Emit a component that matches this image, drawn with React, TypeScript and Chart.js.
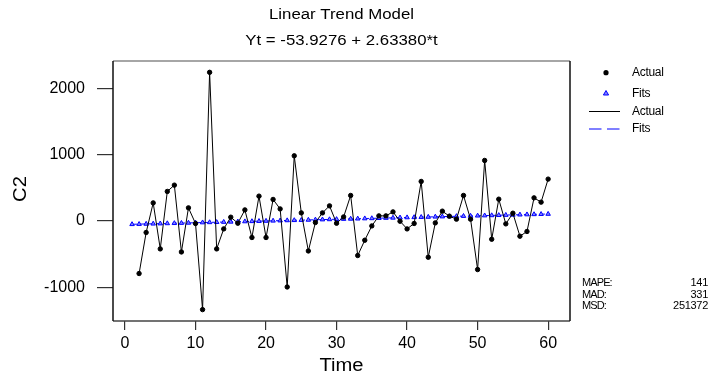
import React, { useEffect, useRef } from "react";
import { Chart, registerables } from "chart.js";

Chart.register(...registerables);

const titleLines = ["Linear Trend Model", "Yt = -53.9276 + 2.63380*t"];
const xTitle = "Time";
const yTitle = "C2";

const time = [
  1, 2, 3, 4, 5, 6, 7, 8, 9, 10, 11, 12, 13, 14, 15, 16, 17, 18, 19, 20,
  21, 22, 23, 24, 25, 26, 27, 28, 29, 30, 31, 32, 33, 34, 35, 36, 37, 38, 39, 40,
  41, 42, 43, 44, 45, 46, 47, 48, 49, 50, 51, 52, 53, 54, 55, 56, 57, 58, 59, 60,
];

const actual: (number | null)[] = [
  null, -795, -175, 272, -423, 445, 540, -469, 197, -39,
  -1340, 2244, -423, -121, 56, -35, 166, -251, 374, -251,
  324, 181, -998, 983, 121, -454, -24, 121, 227, -35,
  60, 384, -523, -292, -76, 76, 76, 136, -5, -121,
  -39, 596, -549, -30, 147, 71, 26, 384, 26, -735,
  913, -277, 328, -45, 116, -231, -160, 348, 283, 631,
];

const fits = [
  -51.3, -48.7, -46.0, -43.4, -40.8, -38.1, -35.5, -32.9, -30.2, -27.6,
  -24.9, -22.3, -19.7, -17.0, -14.4, -11.8, -9.1, -6.5, -3.9, -1.2,
  1.4, 4.0, 6.7, 9.3, 11.9, 14.6, 17.2, 19.8, 22.5, 25.1,
  27.7, 30.4, 33.0, 35.6, 38.3, 40.9, 43.5, 46.2, 48.8, 51.4,
  54.1, 56.7, 59.3, 62.0, 64.6, 67.2, 69.9, 72.5, 75.1, 77.8,
  80.4, 83.0, 85.7, 88.3, 90.9, 93.6, 96.2, 98.8, 101.5, 104.1,
];

const xTicks = [0, 10, 20, 30, 40, 50, 60];
const yTicks = [-1000, 0, 1000, 2000];

const legendLabels = ["Actual", "Fits", "Actual", "Fits"];
const statLabels = ["MAPE:", "MAD:", "MSD:"];
const statValues = ["141", "331", "251372"];

const FONT = "'Liberation Sans', Arial, sans-serif";

function drawText(
  ctx: CanvasRenderingContext2D,
  text: string,
  x: number,
  y: number,
  font: string,
  align: CanvasTextAlign,
  sx = 1,
  rot = 0,
  spacing = "0px"
) {
  ctx.save();
  ctx.translate(x, y);
  if (rot) ctx.rotate(rot);
  ctx.scale(sx, 1);
  ctx.font = font;
  (ctx as any).letterSpacing = spacing;
  ctx.textAlign = align;
  ctx.textBaseline = "middle";
  ctx.fillStyle = "#000";
  ctx.fillText(text, 0, 0);
  ctx.restore();
}

const decorPlugin = {
  id: "decor",
  afterDraw(chart: any) {
    const ctx: CanvasRenderingContext2D = chart.ctx;
    const a = chart.chartArea;
    const cx = (a.left + a.right) / 2;

    // titles
    drawText(ctx, titleLines[0], cx, 15, `14px ${FONT}`, "center", 1.2);
    drawText(ctx, titleLines[1], cx, 41.5, `14px ${FONT}`, "center", 1.2);
    // axis titles
    drawText(ctx, xTitle, cx, 366, `18px ${FONT}`, "center", 1.12);
    drawText(ctx, yTitle, 21, (a.top + a.bottom) / 2 - 2, `18px ${FONT}`, "center", 1.12, -Math.PI / 2);

    // frame
    ctx.save();
    ctx.lineWidth = 1.5;
    ctx.strokeStyle = "#888";
    ctx.beginPath();
    ctx.moveTo(a.left, a.top);
    ctx.lineTo(a.right, a.top);
    ctx.stroke();
    ctx.strokeStyle = "#444";
    ctx.beginPath();
    ctx.moveTo(a.left, a.bottom);
    ctx.lineTo(a.right, a.bottom);
    ctx.stroke();
    ctx.strokeStyle = "#111";
    ctx.beginPath();
    ctx.moveTo(a.left, a.top);
    ctx.lineTo(a.left, a.bottom);
    ctx.moveTo(a.right, a.top);
    ctx.lineTo(a.right, a.bottom);
    ctx.stroke();
    ctx.restore();

    // legend
    const lx = 606;
    ctx.save();
    ctx.fillStyle = "#000";
    ctx.beginPath();
    ctx.arc(lx, 72.7, 2.6, 0, Math.PI * 2);
    ctx.fill();
    ctx.strokeStyle = "#0000ff";
    ctx.fillStyle = "#8080ff";
    ctx.lineWidth = 1;
    ctx.beginPath();
    ctx.moveTo(lx, 90.5);
    ctx.lineTo(lx + 2.6, 95);
    ctx.lineTo(lx - 2.6, 95);
    ctx.closePath();
    ctx.fill();
    ctx.stroke();
    ctx.strokeStyle = "#000";
    ctx.beginPath();
    ctx.moveTo(589, 111.5);
    ctx.lineTo(620, 111.5);
    ctx.stroke();
    ctx.strokeStyle = "#0000ff";
    ctx.setLineDash([12.5, 5.5]);
    ctx.beginPath();
    ctx.moveTo(589, 129);
    ctx.lineTo(620, 129);
    ctx.stroke();
    ctx.restore();
    const ly = [73, 93.5, 111.5, 129];
    legendLabels.forEach((t, i) =>
      drawText(ctx, t, 632, ly[i], `12px ${FONT}`, "left", 1, 0, "-0.3px")
    );

    // stats
    const sy = [283, 294.5, 306];
    statLabels.forEach((t, i) => {
      drawText(ctx, t, 582, sy[i], `11px ${FONT}`, "left", 1, 0, "-0.9px");
      drawText(ctx, statValues[i], 708, sy[i], `11px ${FONT}`, "right", 1, 0, "-0.3px");
    });
  },
};

export default function App() {
  const ref = useRef<HTMLCanvasElement | null>(null);

  useEffect(() => {
    if (!ref.current) return;
    const actualPts = time
      .map((t, i) => ({ x: t, y: actual[i] }))
      .filter((p) => p.y !== null);
    const fitPts = time.map((t, i) => ({ x: t, y: fits[i] }));

    const chart = new Chart(ref.current, {
      type: "line",
      data: {
        datasets: [
          {
            label: "Fits",
            data: fitPts as any,
            borderColor: "#0000ff",
            borderWidth: 1,
            borderDash: [5, 3],
            pointStyle: "triangle",
            pointRadius: 2.6,
            pointBorderWidth: 1,
            pointBorderColor: "#0000ff",
            pointBackgroundColor: "#8080ff",
            fill: false,
            tension: 0,
            order: 2,
          },
          {
            label: "Actual",
            data: actualPts as any,
            borderColor: "#000",
            borderWidth: 1,
            pointStyle: "circle",
            pointRadius: 2.2,
            pointBorderWidth: 1,
            pointBorderColor: "#000",
            pointBackgroundColor: "#000",
            fill: false,
            tension: 0,
            order: 1,
          },
        ],
      },
      options: {
        responsive: false,
        animation: false,
        events: [],
        layout: { padding: { top: 61, right: 146, left: 0, bottom: 0 } },
        plugins: {
          legend: { display: false },
          title: { display: false },
          tooltip: { enabled: false },
        },
        scales: {
          x: {
            type: "linear",
            min: -1.7,
            max: 63.1,
            afterBuildTicks: (s: any) => {
              s.ticks = xTicks.map((v) => ({ value: v }));
            },
            afterFit: (s: any) => {
              s.height = 58;
            },
            border: { display: false },
            grid: {
              display: true,
              drawOnChartArea: false,
              drawTicks: true,
              tickLength: 9,
              color: "#333",
              lineWidth: 1.2,
            },
            ticks: {
              color: "#000",
              padding: 4,
              maxRotation: 0,
              autoSkip: false,
              callback: (v: any) => String(v),
              font: { family: FONT, size: 16 },
            },
          },
          y: {
            type: "linear",
            min: -1512,
            max: 2415,
            afterBuildTicks: (s: any) => {
              s.ticks = yTicks.map((v) => ({ value: v }));
            },
            afterFit: (s: any) => {
              s.width = 113;
            },
            border: { display: false },
            grid: {
              display: true,
              drawOnChartArea: false,
              drawTicks: true,
              tickLength: 16,
              color: "#333",
              lineWidth: 1.2,
            },
            ticks: {
              color: "#000",
              padding: 12,
              autoSkip: false,
              callback: (v: any) => String(v),
              font: { family: FONT, size: 16 },
            },
          },
        },
      },
      plugins: [decorPlugin],
    });
    return () => chart.destroy();
  }, []);

  return (
    <div style={{ position: "absolute", left: 0, top: 0, width: 716, height: 379, background: "#fff" }}>
      <canvas ref={ref} width={716} height={379} style={{ display: "block" }} />
    </div>
  );
}
